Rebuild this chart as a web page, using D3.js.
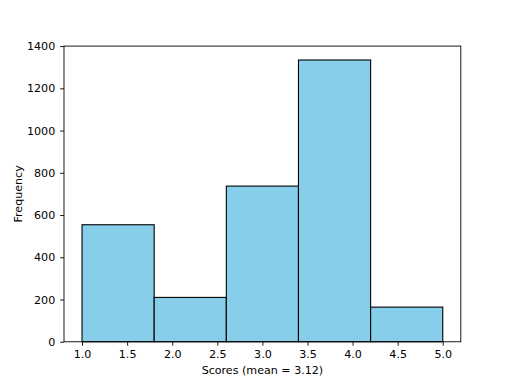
<!DOCTYPE html>
<html>
<head>
<meta charset="utf-8">
<script src="https://cdn.jsdelivr.net/npm/d3@7"></script>
<style>
  body { margin: 0; background: #fff; }
  svg { display: block; font-family: "DejaVu Sans", sans-serif; }
</style>
</head>
<body>
<div id="chart"></div>
<script>
// histogram bins (edges) and counts
const binEdges = [1.0, 1.8, 2.6, 3.4, 4.2, 5.0];
const counts = [554, 210, 737, 1334, 164];
const xTicks = [1.0, 1.5, 2.0, 2.5, 3.0, 3.5, 4.0, 4.5, 5.0];
const yTicks = [0, 200, 400, 600, 800, 1000, 1200, 1400];
const xLabel = "Scores (mean = 3.12)";
const yLabel = "Frequency";

const W = 512, H = 384;
const mLeft = 64, mRight = 460.8, mTop = 46.08, mBottom = 341.76;

const svg = d3.select("#chart").append("svg")
    .attr("width", W)
    .attr("height", H);

const x = d3.scaleLinear().domain([0.8, 5.2]).range([mLeft, mRight]);
const y = d3.scaleLinear().domain([0, 1400]).range([mBottom, mTop]);

const bins = counts.map((c, i) => ({ x0: binEdges[i], x1: binEdges[i + 1], n: c }));

svg.selectAll("rect.bar")
    .data(bins)
    .join("rect")
    .attr("class", "bar")
    .attr("x", d => x(d.x0))
    .attr("y", d => y(d.n))
    .attr("width", d => x(d.x1) - x(d.x0))
    .attr("height", d => y(0) - y(d.n))
    .attr("fill", "#87CEEB")
    .attr("stroke", "#000")
    .attr("stroke-width", 1.1);

// axes
const xAxis = d3.axisBottom(x).tickValues(xTicks).tickFormat(d3.format(".1f")).tickSize(3.9).tickPadding(4.9);
const yAxis = d3.axisLeft(y).tickValues(yTicks).tickFormat(d3.format("d")).tickSize(3.9).tickPadding(4.9);

const gx = svg.append("g").attr("transform", `translate(0,${mBottom})`).call(xAxis);
const gy = svg.append("g").attr("transform", `translate(${mLeft},0)`).call(yAxis);

[gx, gy].forEach(g => {
    g.select(".domain").remove();
    g.selectAll(".tick line").attr("stroke", "#000").attr("stroke-width", 0.9);
    g.selectAll(".tick text").attr("fill", "#000").style("font-size", "11.1px").style("font-family", "DejaVu Sans");
});

// frame
svg.append("rect")
    .attr("x", mLeft)
    .attr("y", mTop)
    .attr("width", mRight - mLeft)
    .attr("height", mBottom - mTop)
    .attr("fill", "none")
    .attr("stroke", "#000")
    .attr("stroke-width", 0.9);

svg.append("text")
    .attr("x", (mLeft + mRight) / 2)
    .attr("y", 374)
    .attr("text-anchor", "middle")
    .style("font-size", "11.1px")
    .text(xLabel);

svg.append("text")
    .attr("transform", `translate(22,${(mTop + mBottom) / 2}) rotate(-90)`)
    .attr("text-anchor", "middle")
    .style("font-size", "11.1px")
    .text(yLabel);
</script>
</body>
</html>
